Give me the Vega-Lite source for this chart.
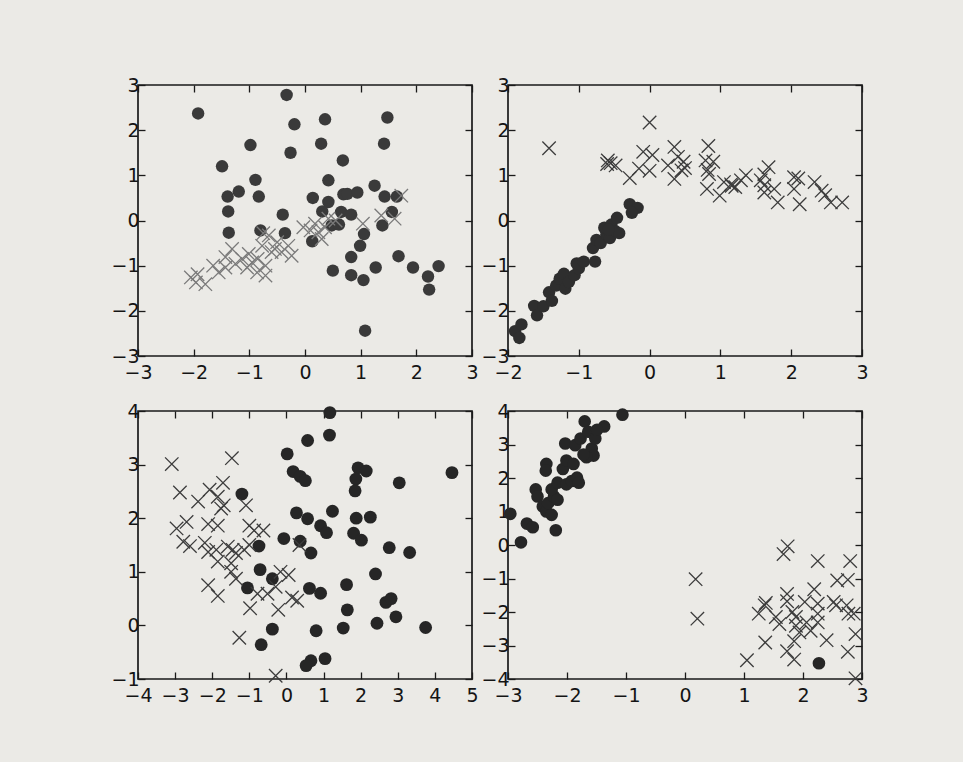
{
  "$schema": "https://vega.github.io/schema/vega-lite/v6.json",
  "background": "#ebeae6",
  "padding": {"left": 110, "top": 75, "right": 100, "bottom": 60},
  "datasets": {
    "p1": [
      {"x": -1.92, "y": 2.37, "k": "o"}, {"x": -0.33, "y": 2.78, "k": "o"}, {"x": -0.19, "y": 2.13, "k": "o"}, {"x": 0.36, "y": 2.24, "k": "o"}, {"x": 1.48, "y": 2.28, "k": "o"},
      {"x": -0.98, "y": 1.67, "k": "o"}, {"x": 0.29, "y": 1.7, "k": "o"}, {"x": 1.42, "y": 1.7, "k": "o"}, {"x": -0.26, "y": 1.5, "k": "o"}, {"x": 0.68, "y": 1.33, "k": "o"},
      {"x": -1.49, "y": 1.2, "k": "o"}, {"x": -0.89, "y": 0.9, "k": "o"}, {"x": 0.42, "y": 0.89, "k": "o"}, {"x": -1.19, "y": 0.64, "k": "o"}, {"x": -1.39, "y": 0.53, "k": "o"},
      {"x": -0.83, "y": 0.53, "k": "o"}, {"x": 0.14, "y": 0.5, "k": "o"}, {"x": 1.25, "y": 0.77, "k": "o"}, {"x": 0.69, "y": 0.58, "k": "o"}, {"x": 0.76, "y": 0.59, "k": "o"},
      {"x": 0.94, "y": 0.62, "k": "o"}, {"x": 1.43, "y": 0.53, "k": "o"}, {"x": 1.65, "y": 0.53, "k": "o"}, {"x": 0.42, "y": 0.41, "k": "o"}, {"x": -1.38, "y": 0.2, "k": "o"},
      {"x": 0.31, "y": 0.2, "k": "o"}, {"x": -0.4, "y": 0.13, "k": "o"}, {"x": 0.65, "y": 0.19, "k": "o"}, {"x": 0.83, "y": 0.13, "k": "o"}, {"x": 1.56, "y": 0.19, "k": "o"},
      {"x": 0.48, "y": -0.11, "k": "o"}, {"x": 0.61, "y": -0.09, "k": "o"}, {"x": 1.39, "y": -0.11, "k": "o"}, {"x": -0.8, "y": -0.22, "k": "o"}, {"x": -1.37, "y": -0.27, "k": "o"},
      {"x": -0.36, "y": -0.28, "k": "o"}, {"x": 1.06, "y": -0.3, "k": "o"}, {"x": 0.13, "y": -0.46, "k": "o"}, {"x": 0.99, "y": -0.56, "k": "o"}, {"x": 0.83, "y": -0.81, "k": "o"},
      {"x": 1.68, "y": -0.79, "k": "o"}, {"x": 0.5, "y": -1.11, "k": "o"}, {"x": 0.83, "y": -1.21, "k": "o"}, {"x": 1.05, "y": -1.32, "k": "o"}, {"x": 1.27, "y": -1.04, "k": "o"},
      {"x": 1.94, "y": -1.04, "k": "o"}, {"x": 2.21, "y": -1.24, "k": "o"}, {"x": 2.23, "y": -1.53, "k": "o"}, {"x": 2.4, "y": -1.01, "k": "o"}, {"x": 1.08, "y": -2.44, "k": "o"},
      {"x": -2.05, "y": -1.26, "k": "x"}, {"x": -1.93, "y": -1.19, "k": "x"}, {"x": -1.96, "y": -1.37, "k": "x"}, {"x": -1.79, "y": -1.41, "k": "x"}, {"x": -1.55, "y": -1.15, "k": "x"},
      {"x": -1.43, "y": -0.81, "k": "x"}, {"x": -1.31, "y": -0.63, "k": "x"}, {"x": -1.43, "y": -1.04, "k": "x"}, {"x": -1.25, "y": -0.96, "k": "x"}, {"x": -1.13, "y": -0.85, "k": "x"},
      {"x": -1.01, "y": -0.74, "k": "x"}, {"x": -0.95, "y": -0.93, "k": "x"}, {"x": -1.04, "y": -1.04, "k": "x"}, {"x": -0.86, "y": -1.15, "k": "x"}, {"x": -0.71, "y": -1.22, "k": "x"},
      {"x": -0.71, "y": -1.0, "k": "x"}, {"x": -0.77, "y": -0.56, "k": "x"}, {"x": -0.65, "y": -0.33, "k": "x"}, {"x": -0.6, "y": -0.7, "k": "x"}, {"x": -0.54, "y": -0.63, "k": "x"},
      {"x": -0.42, "y": -0.7, "k": "x"}, {"x": -0.3, "y": -0.56, "k": "x"}, {"x": -0.24, "y": -0.78, "k": "x"}, {"x": -0.03, "y": -0.15, "k": "x"}, {"x": 0.18, "y": -0.07, "k": "x"},
      {"x": 0.24, "y": -0.26, "k": "x"}, {"x": 0.3, "y": -0.41, "k": "x"}, {"x": 0.36, "y": -0.15, "k": "x"}, {"x": 0.42, "y": 0.04, "k": "x"}, {"x": 1.04, "y": -0.07, "k": "x"},
      {"x": 1.37, "y": 0.11, "k": "x"}, {"x": 1.61, "y": 0.04, "k": "x"}, {"x": 1.73, "y": 0.55, "k": "x"}, {"x": -0.75, "y": -0.28, "k": "x"}, {"x": -0.85, "y": -0.85, "k": "x"},
      {"x": -0.5, "y": -0.48, "k": "x"}, {"x": 0.1, "y": -0.22, "k": "x"}, {"x": 0.55, "y": 0.0, "k": "x"}, {"x": -1.65, "y": -1.0, "k": "x"}
    ],
    "p2": [
      {"x": -1.9, "y": -2.45, "k": "o"}, {"x": -1.81, "y": -2.3, "k": "o"}, {"x": -1.84, "y": -2.6, "k": "o"}, {"x": -1.63, "y": -1.89, "k": "o"}, {"x": -1.59, "y": -2.1, "k": "o"},
      {"x": -1.5, "y": -1.9, "k": "o"}, {"x": -1.42, "y": -1.59, "k": "o"}, {"x": -1.38, "y": -1.78, "k": "o"}, {"x": -1.32, "y": -1.44, "k": "o"}, {"x": -1.27, "y": -1.29, "k": "o"},
      {"x": -1.21, "y": -1.18, "k": "o"}, {"x": -1.19, "y": -1.51, "k": "o"}, {"x": -1.14, "y": -1.36, "k": "o"}, {"x": -1.06, "y": -1.21, "k": "o"}, {"x": -1.0, "y": -1.06, "k": "o"},
      {"x": -1.03, "y": -0.95, "k": "o"}, {"x": -0.93, "y": -0.91, "k": "o"}, {"x": -0.77, "y": -0.91, "k": "o"}, {"x": -0.8, "y": -0.61, "k": "o"}, {"x": -0.75, "y": -0.43, "k": "o"},
      {"x": -0.69, "y": -0.5, "k": "o"}, {"x": -0.61, "y": -0.31, "k": "o"}, {"x": -0.64, "y": -0.16, "k": "o"}, {"x": -0.56, "y": -0.39, "k": "o"}, {"x": -0.54, "y": -0.09, "k": "o"},
      {"x": -0.48, "y": -0.24, "k": "o"}, {"x": -0.46, "y": 0.06, "k": "o"}, {"x": -0.43, "y": -0.28, "k": "o"}, {"x": -0.28, "y": 0.36, "k": "o"}, {"x": -0.17, "y": 0.28, "k": "o"},
      {"x": -0.25, "y": 0.17, "k": "o"}, {"x": -0.58, "y": -0.2, "k": "o"},
      {"x": -1.42, "y": 1.6, "k": "x"}, {"x": 0.0, "y": 2.17, "k": "x"}, {"x": -0.59, "y": 1.33, "k": "x"}, {"x": -0.48, "y": 1.22, "k": "x"}, {"x": -0.55, "y": 1.27, "k": "x"},
      {"x": -0.28, "y": 0.94, "k": "x"}, {"x": -0.09, "y": 1.52, "k": "x"}, {"x": 0.04, "y": 1.45, "k": "x"}, {"x": -0.15, "y": 1.15, "k": "x"}, {"x": 0.0, "y": 1.1, "k": "x"},
      {"x": 0.35, "y": 1.63, "k": "x"}, {"x": 0.4, "y": 1.41, "k": "x"}, {"x": 0.26, "y": 1.22, "k": "x"}, {"x": 0.48, "y": 1.3, "k": "x"}, {"x": 0.45, "y": 1.11, "k": "x"},
      {"x": 0.35, "y": 0.92, "k": "x"}, {"x": 0.5, "y": 1.16, "k": "x"}, {"x": 0.83, "y": 1.65, "k": "x"}, {"x": 0.79, "y": 1.33, "k": "x"}, {"x": 0.9, "y": 1.3, "k": "x"},
      {"x": 0.84, "y": 1.03, "k": "x"}, {"x": 0.82, "y": 1.12, "k": "x"}, {"x": 0.81, "y": 0.7, "k": "x"}, {"x": 0.99, "y": 0.55, "k": "x"}, {"x": 1.05, "y": 0.85, "k": "x"},
      {"x": 1.16, "y": 0.77, "k": "x"}, {"x": 1.21, "y": 0.74, "k": "x"}, {"x": 1.29, "y": 0.89, "k": "x"}, {"x": 1.36, "y": 1.0, "k": "x"}, {"x": 1.57, "y": 0.89, "k": "x"},
      {"x": 1.62, "y": 1.02, "k": "x"}, {"x": 1.68, "y": 1.18, "k": "x"}, {"x": 1.62, "y": 0.78, "k": "x"}, {"x": 1.62, "y": 0.62, "k": "x"}, {"x": 1.76, "y": 0.7, "k": "x"},
      {"x": 1.81, "y": 0.4, "k": "x"}, {"x": 2.04, "y": 0.96, "k": "x"}, {"x": 2.1, "y": 0.93, "k": "x"}, {"x": 2.04, "y": 0.7, "k": "x"}, {"x": 2.12, "y": 0.36, "k": "x"},
      {"x": 2.33, "y": 0.85, "k": "x"}, {"x": 2.43, "y": 0.66, "k": "x"}, {"x": 2.48, "y": 0.56, "k": "x"}, {"x": 2.56, "y": 0.4, "k": "x"}, {"x": 2.72, "y": 0.4, "k": "x"},
      {"x": -0.6, "y": 1.25, "k": "x"}, {"x": 1.15, "y": 0.8, "k": "x"}
    ],
    "p3": [
      {"x": 1.17, "y": 3.97, "k": "o"}, {"x": 1.16, "y": 3.55, "k": "o"}, {"x": 0.57, "y": 3.45, "k": "o"}, {"x": 0.02, "y": 3.2, "k": "o"}, {"x": 0.18, "y": 2.87, "k": "o"},
      {"x": 0.37, "y": 2.78, "k": "o"}, {"x": 0.51, "y": 2.7, "k": "o"}, {"x": 1.93, "y": 2.94, "k": "o"}, {"x": 1.87, "y": 2.73, "k": "o"}, {"x": 2.15, "y": 2.88, "k": "o"},
      {"x": 1.85, "y": 2.51, "k": "o"}, {"x": 3.04, "y": 2.66, "k": "o"}, {"x": 4.46, "y": 2.85, "k": "o"}, {"x": -1.2, "y": 2.45, "k": "o"}, {"x": 0.27, "y": 2.1, "k": "o"},
      {"x": 1.24, "y": 2.13, "k": "o"}, {"x": 0.57, "y": 1.99, "k": "o"}, {"x": 0.92, "y": 1.86, "k": "o"}, {"x": 1.08, "y": 1.73, "k": "o"}, {"x": 1.88, "y": 2.0, "k": "o"},
      {"x": 2.26, "y": 2.02, "k": "o"}, {"x": 1.81, "y": 1.72, "k": "o"}, {"x": 2.02, "y": 1.59, "k": "o"}, {"x": -0.07, "y": 1.62, "k": "o"}, {"x": 0.37, "y": 1.57, "k": "o"},
      {"x": 0.66, "y": 1.35, "k": "o"}, {"x": -0.74, "y": 1.48, "k": "o"}, {"x": 2.77, "y": 1.45, "k": "o"}, {"x": 3.32, "y": 1.36, "k": "o"}, {"x": -0.71, "y": 1.04, "k": "o"},
      {"x": -0.38, "y": 0.87, "k": "o"}, {"x": -1.05, "y": 0.7, "k": "o"}, {"x": 0.62, "y": 0.69, "k": "o"}, {"x": 0.92, "y": 0.6, "k": "o"}, {"x": 1.62, "y": 0.76, "k": "o"},
      {"x": 2.4, "y": 0.96, "k": "o"}, {"x": 1.64, "y": 0.29, "k": "o"}, {"x": 2.68, "y": 0.43, "k": "o"}, {"x": 2.82, "y": 0.5, "k": "o"}, {"x": 2.95, "y": 0.16, "k": "o"},
      {"x": 2.44, "y": 0.04, "k": "o"}, {"x": 3.75, "y": -0.04, "k": "o"}, {"x": 1.53, "y": -0.05, "k": "o"}, {"x": 0.8, "y": -0.1, "k": "o"}, {"x": -0.38, "y": -0.07, "k": "o"},
      {"x": -0.68, "y": -0.36, "k": "o"}, {"x": 1.04, "y": -0.62, "k": "o"}, {"x": 0.66, "y": -0.66, "k": "o"}, {"x": 0.53, "y": -0.75, "k": "o"},
      {"x": -3.09, "y": 3.01, "k": "x"}, {"x": -1.47, "y": 3.12, "k": "x"}, {"x": -2.87, "y": 2.48, "k": "x"}, {"x": -2.38, "y": 2.31, "k": "x"}, {"x": -2.07, "y": 2.53, "k": "x"},
      {"x": -1.71, "y": 2.66, "k": "x"}, {"x": -1.85, "y": 2.4, "k": "x"}, {"x": -1.69, "y": 2.24, "k": "x"}, {"x": -1.76, "y": 2.18, "k": "x"}, {"x": -1.09, "y": 2.24, "k": "x"},
      {"x": -2.96, "y": 1.81, "k": "x"}, {"x": -2.69, "y": 1.93, "k": "x"}, {"x": -2.11, "y": 1.89, "k": "x"}, {"x": -1.85, "y": 1.86, "k": "x"}, {"x": -1.0, "y": 1.86, "k": "x"},
      {"x": -0.87, "y": 1.77, "k": "x"}, {"x": -0.62, "y": 1.77, "k": "x"}, {"x": -2.78, "y": 1.56, "k": "x"}, {"x": -2.6, "y": 1.48, "k": "x"}, {"x": -2.2, "y": 1.54, "k": "x"},
      {"x": -2.11, "y": 1.37, "k": "x"}, {"x": -1.89, "y": 1.41, "k": "x"}, {"x": -1.85, "y": 1.19, "k": "x"}, {"x": -1.58, "y": 1.47, "k": "x"}, {"x": -1.45, "y": 1.41, "k": "x"},
      {"x": -1.36, "y": 1.35, "k": "x"}, {"x": -1.14, "y": 1.41, "k": "x"}, {"x": -1.49, "y": 1.16, "k": "x"}, {"x": -1.49, "y": 1.0, "k": "x"}, {"x": -1.36, "y": 0.87, "k": "x"},
      {"x": -2.11, "y": 0.75, "k": "x"}, {"x": -1.85, "y": 0.55, "k": "x"}, {"x": -0.78, "y": 0.59, "k": "x"}, {"x": -0.51, "y": 0.59, "k": "x"}, {"x": -0.16, "y": 1.0, "k": "x"},
      {"x": 0.06, "y": 0.94, "k": "x"}, {"x": -0.29, "y": 0.72, "k": "x"}, {"x": 0.15, "y": 0.52, "k": "x"}, {"x": 0.29, "y": 0.46, "k": "x"}, {"x": -0.98, "y": 0.32, "k": "x"},
      {"x": -0.22, "y": 0.29, "k": "x"}, {"x": -1.27, "y": -0.23, "k": "x"}, {"x": -0.29, "y": -0.94, "k": "x"}, {"x": 0.35, "y": 1.5, "k": "x"}, {"x": -1.0, "y": 1.5, "k": "x"}
    ],
    "p4": [
      {"x": -2.96, "y": 0.93, "k": "o"}, {"x": -2.78, "y": 0.08, "k": "o"}, {"x": -2.68, "y": 0.64, "k": "o"}, {"x": -2.58, "y": 0.53, "k": "o"}, {"x": -2.19, "y": 0.44, "k": "o"},
      {"x": -2.53, "y": 1.66, "k": "o"}, {"x": -2.5, "y": 1.45, "k": "o"}, {"x": -2.35, "y": 2.42, "k": "o"}, {"x": -2.36, "y": 2.22, "k": "o"}, {"x": -2.41, "y": 1.15, "k": "o"},
      {"x": -2.35, "y": 1.0, "k": "o"}, {"x": -2.26, "y": 0.9, "k": "o"}, {"x": -2.32, "y": 1.25, "k": "o"}, {"x": -2.22, "y": 1.45, "k": "o"}, {"x": -2.26, "y": 1.66, "k": "o"},
      {"x": -2.16, "y": 1.86, "k": "o"}, {"x": -2.16, "y": 1.35, "k": "o"}, {"x": -2.07, "y": 2.27, "k": "o"}, {"x": -2.01, "y": 2.52, "k": "o"}, {"x": -2.03, "y": 3.03, "k": "o"},
      {"x": -1.86, "y": 2.98, "k": "o"}, {"x": -1.89, "y": 2.42, "k": "o"}, {"x": -2.01, "y": 1.81, "k": "o"}, {"x": -1.92, "y": 1.91, "k": "o"}, {"x": -1.83, "y": 2.01, "k": "o"},
      {"x": -1.8, "y": 1.86, "k": "o"}, {"x": -1.77, "y": 3.18, "k": "o"}, {"x": -1.7, "y": 3.69, "k": "o"}, {"x": -1.64, "y": 3.38, "k": "o"}, {"x": -1.58, "y": 2.88, "k": "o"},
      {"x": -1.52, "y": 3.18, "k": "o"}, {"x": -1.55, "y": 2.67, "k": "o"}, {"x": -1.67, "y": 2.62, "k": "o"}, {"x": -1.72, "y": 2.7, "k": "o"}, {"x": -1.37, "y": 3.54, "k": "o"},
      {"x": -1.06, "y": 3.89, "k": "o"}, {"x": -1.49, "y": 3.44, "k": "o"}, {"x": 2.27, "y": -3.53, "k": "o"},
      {"x": 0.18, "y": -1.02, "k": "x"}, {"x": 0.21, "y": -2.2, "k": "x"}, {"x": 1.05, "y": -3.44, "k": "x"}, {"x": 1.67, "y": -0.27, "k": "x"}, {"x": 1.74, "y": -0.04, "k": "x"},
      {"x": 2.25, "y": -0.48, "k": "x"}, {"x": 2.8, "y": -0.48, "k": "x"}, {"x": 2.58, "y": -1.06, "k": "x"}, {"x": 2.76, "y": -1.04, "k": "x"}, {"x": 2.19, "y": -1.32, "k": "x"},
      {"x": 1.73, "y": -1.46, "k": "x"}, {"x": 1.37, "y": -1.73, "k": "x"}, {"x": 1.25, "y": -2.05, "k": "x"}, {"x": 1.73, "y": -1.68, "k": "x"}, {"x": 2.03, "y": -1.7, "k": "x"},
      {"x": 2.25, "y": -1.75, "k": "x"}, {"x": 2.52, "y": -1.7, "k": "x"}, {"x": 2.56, "y": -1.8, "k": "x"}, {"x": 2.74, "y": -1.8, "k": "x"}, {"x": 2.86, "y": -2.05, "k": "x"},
      {"x": 2.77, "y": -2.05, "k": "x"}, {"x": 1.82, "y": -2.0, "k": "x"}, {"x": 1.88, "y": -2.15, "k": "x"}, {"x": 1.54, "y": -2.15, "k": "x"}, {"x": 1.6, "y": -2.36, "k": "x"},
      {"x": 1.88, "y": -2.41, "k": "x"}, {"x": 2.06, "y": -2.31, "k": "x"}, {"x": 2.25, "y": -2.31, "k": "x"}, {"x": 2.25, "y": -2.05, "k": "x"}, {"x": 1.94, "y": -2.61, "k": "x"},
      {"x": 2.13, "y": -2.56, "k": "x"}, {"x": 2.4, "y": -2.84, "k": "x"}, {"x": 1.85, "y": -2.87, "k": "x"}, {"x": 1.36, "y": -2.91, "k": "x"}, {"x": 2.89, "y": -2.66, "k": "x"},
      {"x": 1.73, "y": -3.17, "k": "x"}, {"x": 1.85, "y": -3.42, "k": "x"}, {"x": 2.76, "y": -3.19, "k": "x"}, {"x": 2.89, "y": -3.98, "k": "x"}, {"x": 1.35, "y": -1.8, "k": "x"}
    ]
  },
  "columns": 2,
  "spacing": {"row": 55, "column": 36},
  "bounds": "flush",
  "concat": [
    {
      "width": 334, "height": 271,
      "data": {"name": "p1"},
      "layer": [
        {
          "transform": [{"filter": "datum.k == 'o'"}],
          "mark": {"type": "point", "shape": "circle", "filled": true, "size": 155, "color": "#3a3a3a", "opacity": 1},
          "encoding": {
            "x": {"field": "x", "type": "quantitative", "title": null, "scale": {"domain": [-3, 3], "nice": false, "zero": false}, "axis": {"orient": "bottom", "values": [-3, -2, -1, 0, 1, 2, 3]}},
            "y": {"field": "y", "type": "quantitative", "title": null, "scale": {"domain": [-3, 3], "nice": false, "zero": false}, "axis": {"orient": "left", "values": [-3, -2, -1, 0, 1, 2, 3]}}
          }
        },
        {
          "transform": [{"filter": "datum.k == 'x'"}],
          "mark": {"type": "point", "shape": "M-1,-1L1,1M-1,1L1,-1", "filled": false, "size": 180, "color": "#7a7a7a", "strokeWidth": 1.3, "opacity": 1},
          "encoding": {
            "x": {"field": "x", "type": "quantitative", "title": null, "axis": {"orient": "top", "labels": false, "values": [-3, -2, -1, 0, 1, 2, 3]}},
            "y": {"field": "y", "type": "quantitative", "title": null, "axis": {"orient": "right", "labels": false, "values": [-3, -2, -1, 0, 1, 2, 3]}}
          }
        }
      ],
      "resolve": {"axis": {"x": "independent", "y": "independent"}}
    },
    {
      "width": 354, "height": 271,
      "data": {"name": "p2"},
      "layer": [
        {
          "transform": [{"filter": "datum.k == 'o'"}],
          "mark": {"type": "point", "shape": "circle", "filled": true, "size": 155, "color": "#2e2e2e", "opacity": 1},
          "encoding": {
            "x": {"field": "x", "type": "quantitative", "title": null, "scale": {"domain": [-2, 3], "nice": false, "zero": false}, "axis": {"orient": "bottom", "values": [-2, -1, 0, 1, 2, 3]}},
            "y": {"field": "y", "type": "quantitative", "title": null, "scale": {"domain": [-3, 3], "nice": false, "zero": false}, "axis": {"orient": "left", "values": [-3, -2, -1, 0, 1, 2, 3]}}
          }
        },
        {
          "transform": [{"filter": "datum.k == 'x'"}],
          "mark": {"type": "point", "shape": "M-1,-1L1,1M-1,1L1,-1", "filled": false, "size": 180, "color": "#3c3c3c", "strokeWidth": 1.3, "opacity": 1},
          "encoding": {
            "x": {"field": "x", "type": "quantitative", "title": null, "axis": {"orient": "top", "labels": false, "values": [-2, -1, 0, 1, 2, 3]}},
            "y": {"field": "y", "type": "quantitative", "title": null, "axis": {"orient": "right", "labels": false, "values": [-3, -2, -1, 0, 1, 2, 3]}}
          }
        }
      ],
      "resolve": {"axis": {"x": "independent", "y": "independent"}}
    },
    {
      "width": 334, "height": 268,
      "data": {"name": "p3"},
      "layer": [
        {
          "transform": [{"filter": "datum.k == 'o'"}],
          "mark": {"type": "point", "shape": "circle", "filled": true, "size": 165, "color": "#262626", "opacity": 1},
          "encoding": {
            "x": {"field": "x", "type": "quantitative", "title": null, "scale": {"domain": [-4, 5], "nice": false, "zero": false}, "axis": {"orient": "bottom", "values": [-4, -3, -2, -1, 0, 1, 2, 3, 4, 5]}},
            "y": {"field": "y", "type": "quantitative", "title": null, "scale": {"domain": [-1, 4], "nice": false, "zero": false}, "axis": {"orient": "left", "values": [-1, 0, 1, 2, 3, 4]}}
          }
        },
        {
          "transform": [{"filter": "datum.k == 'x'"}],
          "mark": {"type": "point", "shape": "M-1,-1L1,1M-1,1L1,-1", "filled": false, "size": 180, "color": "#3c3c3c", "strokeWidth": 1.3, "opacity": 1},
          "encoding": {
            "x": {"field": "x", "type": "quantitative", "title": null, "axis": {"orient": "top", "labels": false, "values": [-4, -3, -2, -1, 0, 1, 2, 3, 4, 5]}},
            "y": {"field": "y", "type": "quantitative", "title": null, "axis": {"orient": "right", "labels": false, "values": [-1, 0, 1, 2, 3, 4]}}
          }
        }
      ],
      "resolve": {"axis": {"x": "independent", "y": "independent"}}
    },
    {
      "width": 354, "height": 268,
      "data": {"name": "p4"},
      "layer": [
        {
          "transform": [{"filter": "datum.k == 'o'"}],
          "mark": {"type": "point", "shape": "circle", "filled": true, "size": 160, "color": "#262626", "opacity": 1},
          "encoding": {
            "x": {"field": "x", "type": "quantitative", "title": null, "scale": {"domain": [-3, 3], "nice": false, "zero": false}, "axis": {"orient": "bottom", "values": [-3, -2, -1, 0, 1, 2, 3]}},
            "y": {"field": "y", "type": "quantitative", "title": null, "scale": {"domain": [-4, 4], "nice": false, "zero": false}, "axis": {"orient": "left", "values": [-4, -3, -2, -1, 0, 1, 2, 3, 4]}}
          }
        },
        {
          "transform": [{"filter": "datum.k == 'x'"}],
          "mark": {"type": "point", "shape": "M-1,-1L1,1M-1,1L1,-1", "filled": false, "size": 180, "color": "#3c3c3c", "strokeWidth": 1.3, "opacity": 1},
          "encoding": {
            "x": {"field": "x", "type": "quantitative", "title": null, "axis": {"orient": "top", "labels": false, "values": [-3, -2, -1, 0, 1, 2, 3]}},
            "y": {"field": "y", "type": "quantitative", "title": null, "axis": {"orient": "right", "labels": false, "values": [-4, -3, -2, -1, 0, 1, 2, 3, 4]}}
          }
        }
      ],
      "resolve": {"axis": {"x": "independent", "y": "independent"}}
    }
  ],
  "config": {
    "view": {"stroke": "#1a1a1a", "strokeWidth": 1.7},
    "axis": {
      "domain": false, "grid": false, "tickSize": -7, "tickColor": "#1a1a1a", "tickWidth": 1.3,
      "labelFont": "DejaVu Sans", "labelFontSize": 19, "labelColor": "#141414",
      "labelFlush": false, "labelOverlap": false, "labelBound": false
    },
    "axisX": {"labelPadding": 14},
    "axisY": {"labelPadding": 6}
  }
}
